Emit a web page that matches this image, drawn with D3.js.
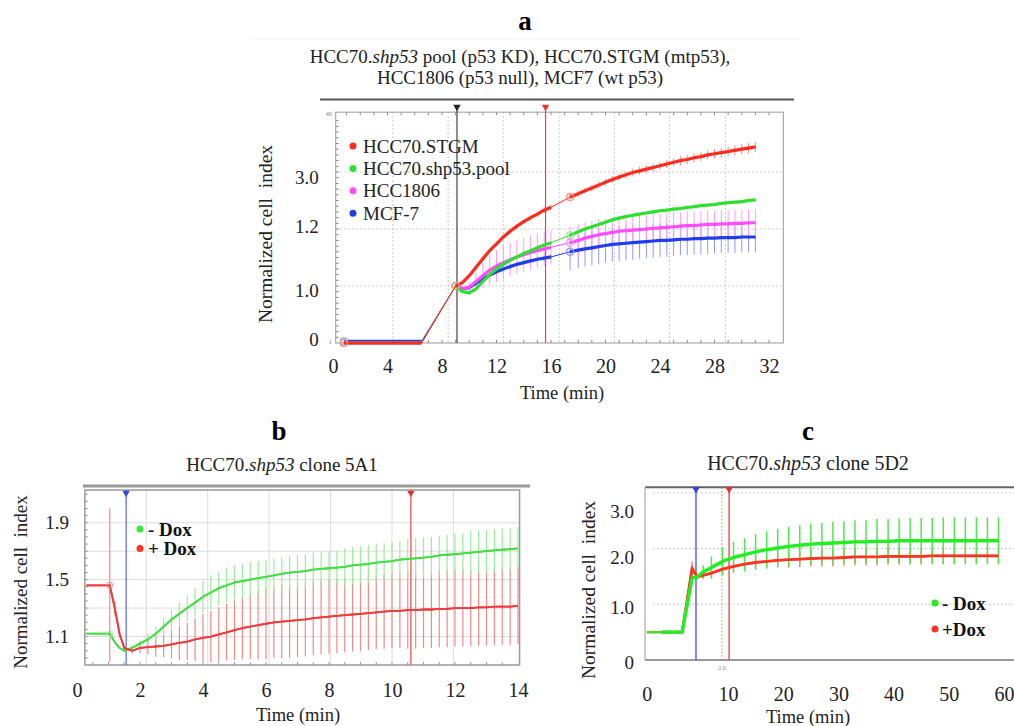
<!DOCTYPE html>
<html>
<head>
<meta charset="utf-8">
<script src="https://cdn.jsdelivr.net/npm/d3@7/dist/d3.min.js"></script>
<style>
  body { margin: 0; background: #fff; }
  svg text { font-family: "Liberation Serif", "Times New Roman", serif; }
</style>
</head>
<body>
<script>
// ---------- panel a : four cell lines ----------
var timeA = [0.8, 1.5, 2.5, 3.5, 4.5, 5.5, 6.5, 9.0,
  9.5, 10, 10.5, 11, 11.5, 12, 12.5, 13, 13.5, 14, 14.5, 15, 15.5, 16,
  17.4, 18, 18.5, 19, 19.5, 20, 20.5, 21, 21.5, 22, 22.5, 23, 23.5, 24, 24.5,
  25, 25.5, 26, 26.5, 27, 27.5, 28, 28.5, 29, 29.5, 30, 30.5, 31];
var stgmA = [0, 0, 0, 0, 0, 0, 0, 1.0,
  1.06, 1.18, 1.33, 1.48, 1.62, 1.74, 1.86, 1.96, 2.05, 2.13, 2.20, 2.26, 2.33, 2.38,
  2.56, 2.62, 2.67, 2.72, 2.77, 2.82, 2.87, 2.91, 2.95, 2.99, 3.02, 3.05, 3.08, 3.11, 3.14,
  3.17, 3.20, 3.22, 3.25, 3.27, 3.30, 3.32, 3.34, 3.36, 3.38, 3.40, 3.42, 3.44];
var poolA = [0, 0, 0, 0, 0, 0, 0, 1.0,
  0.90, 0.88, 0.95, 1.08, 1.20, 1.30, 1.38, 1.45, 1.51, 1.57, 1.62, 1.67, 1.72, 1.76,
  1.89, 1.95, 2.00, 2.04, 2.08, 2.12, 2.16, 2.19, 2.22, 2.24, 2.26, 2.28, 2.30, 2.32, 2.33,
  2.35, 2.36, 2.38, 2.39, 2.41, 2.42, 2.43, 2.45, 2.46, 2.47, 2.48, 2.50, 2.51];
var hcc1806A = [0, 0, 0, 0, 0, 0, 0, 1.0,
  0.95, 0.98, 1.08, 1.18, 1.28, 1.35, 1.41, 1.46, 1.51, 1.55, 1.59, 1.62, 1.65, 1.68,
  1.76, 1.80, 1.84, 1.87, 1.90, 1.92, 1.94, 1.96, 1.97, 1.98, 1.99, 2.00, 2.01, 2.02, 2.03,
  2.04, 2.05, 2.06, 2.06, 2.07, 2.08, 2.08, 2.09, 2.09, 2.10, 2.10, 2.11, 2.11];
var mcf7A = [0.03, 0.03, 0.03, 0.03, 0.03, 0.03, 0.03, 1.0,
  0.95, 0.97, 1.05, 1.13, 1.19, 1.25, 1.30, 1.34, 1.38, 1.41, 1.44, 1.47, 1.49, 1.51,
  1.60, 1.63, 1.65, 1.67, 1.69, 1.71, 1.73, 1.74, 1.75, 1.76, 1.77, 1.78, 1.79, 1.80, 1.80,
  1.81, 1.82, 1.82, 1.83, 1.83, 1.84, 1.84, 1.85, 1.85, 1.85, 1.86, 1.86, 1.86];
// standard deviations (error bars)
var errStgmA = [0, 0, 0, 0, 0, 0, 0, 0,
  0.02, 0.02, 0.03, 0.03, 0.03, 0.03, 0.04, 0.04, 0.04, 0.04, 0.04, 0.05, 0.05, 0.05,
  0.05, 0.05, 0.05, 0.06, 0.06, 0.06, 0.06, 0.06, 0.06, 0.07, 0.07, 0.07, 0.07, 0.07, 0.07,
  0.07, 0.08, 0.08, 0.08, 0.08, 0.08, 0.08, 0.08, 0.08, 0.09, 0.09, 0.09, 0.09];
var errPoolA = [0, 0, 0, 0, 0, 0, 0, 0,
  0.02, 0.02, 0.02, 0.02, 0.02, 0.02, 0.02, 0.02, 0.02, 0.02, 0.02, 0.02, 0.02, 0.02,
  0.03, 0.03, 0.03, 0.03, 0.03, 0.03, 0.03, 0.03, 0.03, 0.03, 0.03, 0.03, 0.03, 0.03, 0.03,
  0.03, 0.03, 0.03, 0.03, 0.03, 0.03, 0.03, 0.03, 0.03, 0.03, 0.03, 0.03, 0.03];
var errHccA = [0, 0, 0, 0, 0, 0, 0, 0,
  0.05, 0.10, 0.16, 0.22, 0.26, 0.28, 0.30, 0.30, 0.30, 0.30, 0.30, 0.30, 0.30, 0.30,
  0.28, 0.28, 0.27, 0.27, 0.27, 0.26, 0.26, 0.26, 0.26, 0.25, 0.25, 0.25, 0.25, 0.25, 0.25,
  0.25, 0.24, 0.24, 0.24, 0.24, 0.24, 0.24, 0.24, 0.24, 0.24, 0.24, 0.24, 0.24];
var errMcfA = [0, 0, 0, 0, 0, 0, 0, 0,
  0.02, 0.03, 0.04, 0.05, 0.05, 0.05, 0.05, 0.05, 0.05, 0.05, 0.05, 0.05, 0.05, 0.05,
  0.32, 0.32, 0.31, 0.31, 0.31, 0.30, 0.30, 0.30, 0.30, 0.30, 0.29, 0.29, 0.29, 0.29, 0.29,
  0.28, 0.28, 0.28, 0.28, 0.28, 0.28, 0.27, 0.27, 0.27, 0.27, 0.27, 0.27, 0.27];
var xTicksA = [0, 4, 8, 12, 16, 20, 24, 28, 32];
// tick labels sit slightly off the grid lines in the source figure
var yTicksA = [0.07, 0.93, 2.04, 2.91];
var yLabelsA = ["0", "1.0", "1.2", "3.0"];
var gridYA = [1, 2, 3];
var gridXA = [4.4, 8.45, 12.5, 16.6, 20.65, 24.7, 28.8];
var legendA = ["HCC70.STGM", "HCC70.shp53.pool", "HCC1806", "MCF-7"];
var markLinesA = [9.1, 15.6];

// ---------- panel b : clone 5A1 ----------
var timeB = [0.3, 0.7, 1.04, 1.2, 1.35, 1.5,
  1.75, 2, 2.25, 2.5, 2.75, 3, 3.25, 3.5, 3.75, 4,
  4.25, 4.5, 4.75, 5, 5.25, 5.5, 5.75, 6, 6.25, 6.5,
  6.75, 7, 7.25, 7.5, 7.75, 8, 8.25, 8.5, 8.75, 9,
  9.25, 9.5, 9.75, 10, 10.25, 10.5, 10.75, 11, 11.25, 11.5,
  11.75, 12, 12.25, 12.5, 12.75, 13, 13.25, 13.5, 13.75, 14];
var minusDoxB = [1.12, 1.12, 1.12, 1.06, 1.02, 1.0,
  1.02, 1.05, 1.08, 1.12, 1.17, 1.22, 1.26, 1.30, 1.34, 1.38,
  1.41, 1.44, 1.46, 1.48, 1.49, 1.50, 1.51, 1.52, 1.53, 1.54,
  1.55, 1.555, 1.56, 1.57, 1.575, 1.58, 1.585, 1.59, 1.60, 1.605,
  1.61, 1.62, 1.625, 1.63, 1.64, 1.645, 1.65, 1.655, 1.66, 1.67,
  1.675, 1.68, 1.685, 1.69, 1.695, 1.70, 1.705, 1.71, 1.715, 1.72];
var plusDoxB = [1.46, 1.46, 1.46, 1.30, 1.12, 1.02,
  1.0, 1.02, 1.025, 1.03, 1.035, 1.045, 1.055, 1.065, 1.08, 1.09,
  1.10, 1.115, 1.13, 1.145, 1.16, 1.17, 1.18, 1.19, 1.20, 1.205,
  1.21, 1.215, 1.22, 1.23, 1.235, 1.24, 1.245, 1.25, 1.255, 1.26,
  1.265, 1.27, 1.275, 1.28, 1.28, 1.285, 1.285, 1.29, 1.29, 1.295,
  1.295, 1.30, 1.30, 1.30, 1.305, 1.305, 1.31, 1.31, 1.31, 1.315];
var errMinusB = [0, 0, 0, 0, 0, 0,
  0.02, 0.03, 0.04, 0.05, 0.06, 0.07, 0.08, 0.09, 0.10, 0.11,
  0.12, 0.12, 0.12, 0.12, 0.12, 0.12, 0.12, 0.12, 0.12, 0.12,
  0.12, 0.12, 0.12, 0.12, 0.12, 0.12, 0.12, 0.13, 0.13, 0.13,
  0.13, 0.13, 0.13, 0.13, 0.13, 0.14, 0.14, 0.14, 0.14, 0.14,
  0.14, 0.14, 0.14, 0.15, 0.15, 0.15, 0.15, 0.15, 0.15, 0.15];
var errPlusB = [0, 0, 0.54, 0.05, 0.03, 0.02,
  0.02, 0.04, 0.05, 0.07, 0.08, 0.10, 0.12, 0.13, 0.15, 0.17,
  0.18, 0.19, 0.20, 0.21, 0.22, 0.23, 0.24, 0.25, 0.25, 0.26,
  0.26, 0.26, 0.26, 0.26, 0.26, 0.26, 0.26, 0.26, 0.26, 0.26,
  0.26, 0.26, 0.26, 0.26, 0.26, 0.27, 0.27, 0.27, 0.27, 0.27,
  0.27, 0.27, 0.27, 0.27, 0.27, 0.27, 0.27, 0.27, 0.27, 0.27];
var xTicksB = [0, 2, 4, 6, 8, 10, 12, 14];
var yTicksB = [1.1, 1.5, 1.9];
var gridXB = [2.2, 4.15, 6.1, 8.05, 10.0, 11.95];
var gridYB = [1.1, 1.3, 1.5, 1.7, 1.9];
var markLinesB = [1.56, 10.6];

// ---------- panel c : clone 5D2 ----------
var timeC = [-4.7, -2, 0, 1.7, 3.5, 4.4, 5.5,
  7, 9, 11, 13, 15, 17, 19, 21, 23, 25,
  27, 29, 31, 33, 35, 37, 39, 41, 43, 45,
  47, 49, 51, 53, 55, 57, 59];
var minusDoxC = [0.5, 0.5, 0.5, 0.5, 1.47, 1.49, 1.58,
  1.66, 1.77, 1.84, 1.89, 1.94, 1.98, 2.01, 2.04, 2.06, 2.08,
  2.09, 2.10, 2.11, 2.12, 2.12, 2.13, 2.13, 2.14, 2.14, 2.14,
  2.14, 2.14, 2.14, 2.14, 2.14, 2.14, 2.14];
var plusDoxC = [0.5, 0.5, 0.5, 0.5, 1.65, 1.49, 1.52,
  1.56, 1.63, 1.68, 1.72, 1.75, 1.77, 1.79, 1.80, 1.81, 1.82,
  1.83, 1.83, 1.84, 1.85, 1.85, 1.85, 1.86, 1.86, 1.86, 1.86,
  1.87, 1.87, 1.87, 1.87, 1.87, 1.87, 1.87];
var errMinusC = [0, 0, 0, 0, 0.05, 0.05, 0.12,
  0.20, 0.25, 0.28, 0.30, 0.32, 0.33, 0.34, 0.35, 0.36, 0.37,
  0.37, 0.38, 0.38, 0.39, 0.39, 0.40, 0.40, 0.40, 0.41, 0.41,
  0.41, 0.42, 0.42, 0.42, 0.42, 0.42, 0.42];
var errPlusC = [0, 0, 0, 0, 0.12, 0.04, 0.06,
  0.08, 0.10, 0.11, 0.12, 0.12, 0.13, 0.13, 0.14, 0.14, 0.14,
  0.15, 0.15, 0.15, 0.15, 0.15, 0.15, 0.15, 0.15, 0.15, 0.15,
  0.15, 0.15, 0.15, 0.15, 0.15, 0.15, 0.15];
var xTicksC = [-4.7, 10, 20, 30, 40, 50, 60];
var xLabelsC = ["0", "10", "20", "30", "40", "50", "60"];
var yTicksC = [-0.04, 0.95, 1.85, 2.66];
var yLabelsC = ["0", "1.0", "2.0", "3.0"];
var gridYC = [1, 2, 3];
var markLinesC = [4.2, 10.2];
var dottedLineC = 8.9;

var legendDox = ["- Dox", "+ Dox"];
var legendDoxC = ["- Dox", "+Dox"];

var svg = d3.select("body").append("svg")
    .attr("width", 1014)
    .attr("height", 726);

var textCol = "#222";

// split a series into runs of closely spaced points (drawn thick)
function runs(times, vals, gap) {
    var out = [], cur = [];
    times.forEach(function(t, i) {
        if (cur.length && t - cur[cur.length - 1][0] > gap) { out.push(cur); cur = []; }
        cur.push([t, vals[i]]);
    });
    if (cur.length) out.push(cur);
    return out;
}

function errorBars(g, x, y, times, vals, errs, color, w) {
    var idx = d3.range(times.length).filter(function(i) { return errs[i] > 0; });
    g.append("g").selectAll("line")
        .data(idx)
        .enter().append("line")
        .attr("x1", function(i) { return x(times[i]); })
        .attr("x2", function(i) { return x(times[i]); })
        .attr("y1", function(i) { return y(vals[i] - errs[i]); })
        .attr("y2", function(i) { return y(vals[i] + errs[i]); })
        .attr("stroke", color)
        .attr("stroke-width", w || 1);
}

function seriesLine(g, x, y, times, vals, color, thin, thick, gap) {
    var line = d3.line().x(function(d) { return x(d[0]); }).y(function(d) { return y(d[1]); });
    g.append("path")
        .datum(times.map(function(t, i) { return [t, vals[i]]; }))
        .attr("d", line).attr("fill", "none")
        .attr("stroke", color).attr("stroke-width", thin);
    runs(times, vals, gap).forEach(function(seg) {
        if (seg.length < 2) return;
        g.append("path").datum(seg)
            .attr("d", line).attr("fill", "none")
            .attr("stroke", color).attr("stroke-width", thick)
            .attr("stroke-linejoin", "round");
    });
}

function downTriangle(g, px, py, color) {
    g.append("path")
        .attr("d", d3.symbol(d3.symbolTriangle, 24)())
        .attr("transform", "translate(" + px + "," + py + ") rotate(180)")
        .attr("fill", color);
}

function styleAxis(sel, size) {
    sel.select(".domain").remove();
    sel.attr("font-family", '"Liberation Serif", "Times New Roman", serif')
        .attr("font-size", size)
        .attr("color", textCol);
}

function rotLabel(g, cx, cy, size) {
    g.append("text")
        .attr("transform", "translate(" + cx + "," + cy + ") rotate(-90)")
        .attr("text-anchor", "middle")
        .attr("font-size", size)
        .attr("fill", textCol)
        .style("white-space", "pre")
        .text("Normalized cell  index");
}

function title(g, cx, cy, pre, ital, post, size) {
    var t = g.append("text").attr("x", cx).attr("y", cy)
        .attr("text-anchor", "middle").attr("font-size", size).attr("fill", textCol);
    t.append("tspan").text(pre);
    t.append("tspan").attr("font-style", "italic").text(ital);
    t.append("tspan").text(post);
}

function panelLetter(cx, cy, s) {
    svg.append("text").attr("x", cx).attr("y", cy)
        .attr("text-anchor", "middle").attr("font-size", 27)
        .attr("font-weight", "bold").attr("fill", "#000").text(s);
}

// =====================================================================
// panel a
// =====================================================================
var gA = svg.append("g");
var xA = d3.scaleLinear().domain([0, 32]).range([333, 769]);
var yA = d3.scaleLinear().domain([0, 4]).range([343, 115]);

panelLetter(525, 30, "a");
gA.append("line").attr("x1", 250).attr("x2", 800).attr("y1", 39).attr("y2", 39)
    .attr("stroke", "#f1f1f1");
title(gA, 520, 63, "HCC70.", "shp53", " pool (p53 KD), HCC70.STGM (mtp53),", 19);
gA.append("text").attr("x", 520).attr("y", 84).attr("text-anchor", "middle")
    .attr("font-size", 19).attr("fill", textCol)
    .text("HCC1806 (p53 null), MCF7 (wt p53)");
gA.append("line").attr("x1", 320).attr("x2", 794).attr("y1", 99.5).attr("y2", 99.5)
    .attr("stroke", "#555").attr("stroke-width", 2);

var fA = { x0: xA(0.2), x1: xA(33.05), y0: yA(4.05), y1: yA(0) };
// grid
gA.append("g").selectAll("line").data(gridXA).enter().append("line")
    .attr("x1", function(d) { return xA(d); }).attr("x2", function(d) { return xA(d); })
    .attr("y1", fA.y0).attr("y2", fA.y1)
    .attr("stroke", "#c8c8c8").attr("stroke-dasharray", "2,2");
gA.append("g").selectAll("line").data(gridYA).enter().append("line")
    .attr("x1", fA.x0).attr("x2", fA.x1)
    .attr("y1", function(d) { return yA(d); }).attr("y2", function(d) { return yA(d); })
    .attr("stroke", "#c8c8c8").attr("stroke-dasharray", "2,2");
// minor ticks
gA.append("g").selectAll("line").data(d3.range(1, 40)).enter().append("line")
    .attr("x1", fA.x0).attr("x2", fA.x0 + 3)
    .attr("y1", function(d) { return yA(d / 10); }).attr("y2", function(d) { return yA(d / 10); })
    .attr("stroke", "#888");
gA.append("g").selectAll("line").data(d3.range(1, 33)).enter().append("line")
    .attr("x1", function(d) { return xA(d); }).attr("x2", function(d) { return xA(d); })
    .attr("y1", fA.y0).attr("y2", fA.y0 + 3)
    .attr("stroke", "#888");
gA.append("g").selectAll("line").data(d3.range(1, 33)).enter().append("line")
    .attr("x1", function(d) { return xA(d); }).attr("x2", function(d) { return xA(d); })
    .attr("y1", fA.y1).attr("y2", fA.y1 - 3)
    .attr("stroke", "#888");
gA.append("rect").attr("x", fA.x0).attr("y", fA.y0)
    .attr("width", fA.x1 - fA.x0).attr("height", fA.y1 - fA.y0)
    .attr("fill", "none").attr("stroke", "#999");
gA.append("text").attr("x", fA.x0 - 4).attr("y", fA.y0 + 4).attr("text-anchor", "end")
    .attr("font-size", 6).attr("fill", "#777").text("40");
gA.append("text").attr("x", fA.x0 - 4).attr("y", fA.y1 + 1).attr("text-anchor", "end")
    .attr("font-size", 6).attr("fill", "#777").text("1");

// marker lines
gA.append("line").attr("x1", xA(markLinesA[0])).attr("x2", xA(markLinesA[0]))
    .attr("y1", fA.y0 - 4).attr("y2", fA.y1).attr("stroke", "#444").attr("stroke-width", 1.2);
gA.append("line").attr("x1", xA(markLinesA[1])).attr("x2", xA(markLinesA[1]))
    .attr("y1", fA.y0 - 4).attr("y2", fA.y1).attr("stroke", "#f04040").attr("stroke-width", 1.2);
downTriangle(gA, xA(markLinesA[0]), 107, "#222");
downTriangle(gA, xA(markLinesA[1]), 107, "#f03030");

var seriesA = [
    { v: mcf7A, e: errMcfA, c: "#1f3cf0", ec: "#8d9cf6" },
    { v: hcc1806A, e: errHccA, c: "#ff4cff", ec: "#ff9cff" },
    { v: poolA, e: errPoolA, c: "#2ee02e", ec: "#8cf08c" },
    { v: stgmA, e: errStgmA, c: "#ff2b1c", ec: "#ff8a80" }
];
seriesA.forEach(function(s) { errorBars(gA, xA, yA, timeA, s.v, s.e, s.ec, 1); });
seriesA.forEach(function(s) {
    seriesLine(gA, xA, yA, timeA, s.v, s.c, 1, 3.2, 1.0);
    // open markers at the start of each run
    runs(timeA, s.v, 1.0).forEach(function(seg) {
        gA.append("circle").attr("cx", xA(seg[0][0])).attr("cy", yA(seg[0][1])).attr("r", 3.5)
            .attr("fill", "none").attr("stroke", s.ec).attr("stroke-width", 1.2);
    });
});

// legend a
var legColA = ["#ff2b1c", "#2ee02e", "#ff4cff", "#1f3cf0"];
legendA.forEach(function(name, i) {
    var yy = 146 + i * 22.4;
    gA.append("circle").attr("cx", 353).attr("cy", yy).attr("r", 3.5).attr("fill", legColA[i]);
    gA.append("text").attr("x", 363).attr("y", yy + 6.5).attr("font-size", 19)
        .attr("fill", textCol).text(name);
});

gA.append("g").attr("transform", "translate(0," + fA.y1 + ")")
    .call(d3.axisBottom(xA).tickValues(xTicksA).tickSize(0).tickPadding(16))
    .call(styleAxis, 20);
gA.append("g").attr("transform", "translate(" + fA.x0 + ",0)")
    .call(d3.axisLeft(yA).tickValues(yTicksA).tickSize(0).tickPadding(17)
        .tickFormat(function(d, i) { return yLabelsA[i]; }))
    .call(styleAxis, 19);
gA.append("text").attr("x", 562).attr("y", 399).attr("text-anchor", "middle")
    .attr("font-size", 18.5).attr("fill", textCol).text("Time (min)");
rotLabel(gA, 272, 234, 19.5);

// =====================================================================
// panel b
// =====================================================================
var gB = svg.append("g");
var xB = d3.scaleLinear().domain([0, 14]).range([77, 518]);
var yB = d3.scaleLinear().domain([0.9, 2.13]).range([665, 490]);
var fB = { x0: xB(0.25), x1: xB(14.05), y0: yB(2.13), y1: yB(0.9) };

panelLetter(279, 440, "b");
title(gB, 282, 471, "HCC70.", "shp53", " clone 5A1", 19);
gB.append("line").attr("x1", 83).attr("x2", 530).attr("y1", 486).attr("y2", 486)
    .attr("stroke", "#999").attr("stroke-width", 3);

gB.append("g").selectAll("line").data(gridXB).enter().append("line")
    .attr("x1", function(d) { return xB(d); }).attr("x2", function(d) { return xB(d); })
    .attr("y1", fB.y0).attr("y2", fB.y1).attr("stroke", "#dcdcdc");
gB.append("g").selectAll("line").data(gridYB).enter().append("line")
    .attr("x1", fB.x0).attr("x2", fB.x1)
    .attr("y1", function(d) { return yB(d); }).attr("y2", function(d) { return yB(d); })
    .attr("stroke", "#dcdcdc");
gB.append("g").selectAll("line").data(d3.range(19, 43)).enter().append("line")
    .attr("x1", fB.x0).attr("x2", fB.x0 + 3)
    .attr("y1", function(d) { return yB(d / 20); }).attr("y2", function(d) { return yB(d / 20); })
    .attr("stroke", "#999");
gB.append("g").selectAll("line").data(d3.range(1, 28)).enter().append("line")
    .attr("x1", function(d) { return xB(d / 2); }).attr("x2", function(d) { return xB(d / 2); })
    .attr("y1", fB.y1).attr("y2", fB.y1 - 3).attr("stroke", "#999");
gB.append("rect").attr("x", fB.x0).attr("y", fB.y0)
    .attr("width", fB.x1 - fB.x0).attr("height", fB.y1 - fB.y0)
    .attr("fill", "none").attr("stroke", "#999").attr("stroke-width", 1.5);

gB.append("line").attr("x1", xB(markLinesB[0])).attr("x2", xB(markLinesB[0]))
    .attr("y1", fB.y0).attr("y2", fB.y1).attr("stroke", "#5566ee").attr("stroke-width", 1.2);
gB.append("line").attr("x1", xB(markLinesB[1])).attr("x2", xB(markLinesB[1]))
    .attr("y1", fB.y0).attr("y2", fB.y1).attr("stroke", "#ee4444").attr("stroke-width", 1.2);
downTriangle(gB, xB(markLinesB[0]), fB.y0 + 3, "#3344dd");
downTriangle(gB, xB(markLinesB[1]), fB.y0 + 3, "#dd3333");

errorBars(gB, xB, yB, timeB, plusDoxB, errPlusB, "#f28a8a", 1.2);
errorBars(gB, xB, yB, timeB, minusDoxB, errMinusB, "#9aee9a", 1.2);
seriesLine(gB, xB, yB, timeB, minusDoxB, "#44dd44", 1.8, 1.8, 1);
seriesLine(gB, xB, yB, timeB, plusDoxB, "#ee3b3b", 1.8, 1.8, 1);
gB.append("circle").attr("cx", xB(timeB[2])).attr("cy", yB(plusDoxB[2])).attr("r", 3)
    .attr("fill", "none").attr("stroke", "#f28a8a");
gB.append("circle").attr("cx", xB(timeB[2])).attr("cy", yB(minusDoxB[2])).attr("r", 3)
    .attr("fill", "none").attr("stroke", "#9aee9a");

[["#33ee33", legendDox[0]], ["#ff3322", legendDox[1]]].forEach(function(d, i) {
    var yy = 529 + i * 19.5;
    gB.append("circle").attr("cx", 140).attr("cy", yy).attr("r", 3.5).attr("fill", d[0]);
    gB.append("text").attr("x", 148).attr("y", yy + 6.5).attr("font-size", 19)
        .attr("font-weight", "bold").attr("fill", "#111").text(d[1]);
});

gB.append("g").attr("transform", "translate(0," + fB.y1 + ")")
    .call(d3.axisBottom(xB).tickValues(xTicksB).tickSize(0).tickPadding(18))
    .call(styleAxis, 20);
gB.append("g").attr("transform", "translate(" + fB.x0 + ",0)")
    .call(d3.axisLeft(yB).tickValues(yTicksB).tickSize(0).tickPadding(16)
        .tickFormat(d3.format(".1f")))
    .call(styleAxis, 19);
gB.append("text").attr("x", 298).attr("y", 721).attr("text-anchor", "middle")
    .attr("font-size", 18.5).attr("fill", textCol).text("Time (min)");
rotLabel(gB, 27, 582, 19);

// =====================================================================
// panel c
// =====================================================================
var gC = svg.append("g");
var xC = d3.scaleLinear().domain([10, 60]).range([728, 1004]);
var yC = d3.scaleLinear().domain([0, 3.1]).range([660, 487.3]);
var fC = { x0: 645, x1: 1014, y0: yC(3.1), y1: yC(0) };

panelLetter(808, 440, "c");
title(gC, 808, 470, "HCC70.", "shp53", " clone 5D2", 20);

gC.append("g").selectAll("line").data(gridYC).enter().append("line")
    .attr("x1", fC.x0 + 8).attr("x2", fC.x1)
    .attr("y1", function(d) { return yC(d); }).attr("y2", function(d) { return yC(d); })
    .attr("stroke", "#bbb").attr("stroke-dasharray", "1.5,2.5");
gC.append("line").attr("x1", xC(dottedLineC)).attr("x2", xC(dottedLineC))
    .attr("y1", fC.y0).attr("y2", fC.y1)
    .attr("stroke", "#999").attr("stroke-dasharray", "1.5,2");
gC.append("text").attr("x", xC(dottedLineC)).attr("y", fC.y1 + 10).attr("text-anchor", "middle")
    .attr("font-size", 6).attr("fill", "#888").text("2.0");
gC.append("line").attr("x1", fC.x0).attr("x2", fC.x1).attr("y1", fC.y0).attr("y2", fC.y0)
    .attr("stroke", "#666").attr("stroke-width", 2);
gC.append("line").attr("x1", fC.x0).attr("x2", fC.x1).attr("y1", fC.y1).attr("y2", fC.y1)
    .attr("stroke", "#999").attr("stroke-width", 2);
gC.append("line").attr("x1", fC.x0).attr("x2", fC.x0).attr("y1", fC.y0).attr("y2", fC.y1)
    .attr("stroke", "#bbb").attr("stroke-width", 1.5);

gC.append("line").attr("x1", xC(markLinesC[0])).attr("x2", xC(markLinesC[0]))
    .attr("y1", fC.y0).attr("y2", fC.y1).attr("stroke", "#4a5cf0").attr("stroke-width", 1.4);
gC.append("line").attr("x1", xC(markLinesC[1])).attr("x2", xC(markLinesC[1]))
    .attr("y1", fC.y0).attr("y2", fC.y1).attr("stroke", "#f04a40").attr("stroke-width", 1.4);
downTriangle(gC, xC(markLinesC[0]), fC.y0 + 2, "#2f3fe0");
downTriangle(gC, xC(markLinesC[1]), fC.y0 + 2, "#e0352b");

errorBars(gC, xC, yC, timeC, plusDoxC, errPlusC, "#ff6a5a", 1.3);
errorBars(gC, xC, yC, timeC, minusDoxC, errMinusC, "#4ee84e", 1.5);
seriesLine(gC, xC, yC, timeC, plusDoxC, "#ff3322", 2, 2.8, 2.1);
seriesLine(gC, xC, yC, timeC, minusDoxC, "#22ee22", 2, 3.4, 2.1);

[["#22ee22", legendDoxC[0]], ["#ff3322", legendDoxC[1]]].forEach(function(d, i) {
    var yy = 603 + i * 26;
    gC.append("circle").attr("cx", 935).attr("cy", yy).attr("r", 3.5).attr("fill", d[0]);
    gC.append("text").attr("x", 942).attr("y", yy + 6.5).attr("font-size", 19)
        .attr("font-weight", "bold").attr("fill", "#111").text(d[1]);
});

gC.append("g").attr("transform", "translate(0," + fC.y1 + ")")
    .call(d3.axisBottom(xC).tickValues(xTicksC).tickSize(0).tickPadding(27)
        .tickFormat(function(d, i) { return xLabelsC[i]; }))
    .call(styleAxis, 20);
gC.append("g").attr("transform", "translate(" + fC.x0 + ",0)")
    .call(d3.axisLeft(yC).tickValues(yTicksC).tickSize(0).tickPadding(11)
        .tickFormat(function(d, i) { return yLabelsC[i]; }))
    .call(styleAxis, 19);
gC.append("text").attr("x", 808).attr("y", 723).attr("text-anchor", "middle")
    .attr("font-size", 18.5).attr("fill", textCol).text("Time (min)");
rotLabel(gC, 595, 590, 19.5);
</script>
</body>
</html>
